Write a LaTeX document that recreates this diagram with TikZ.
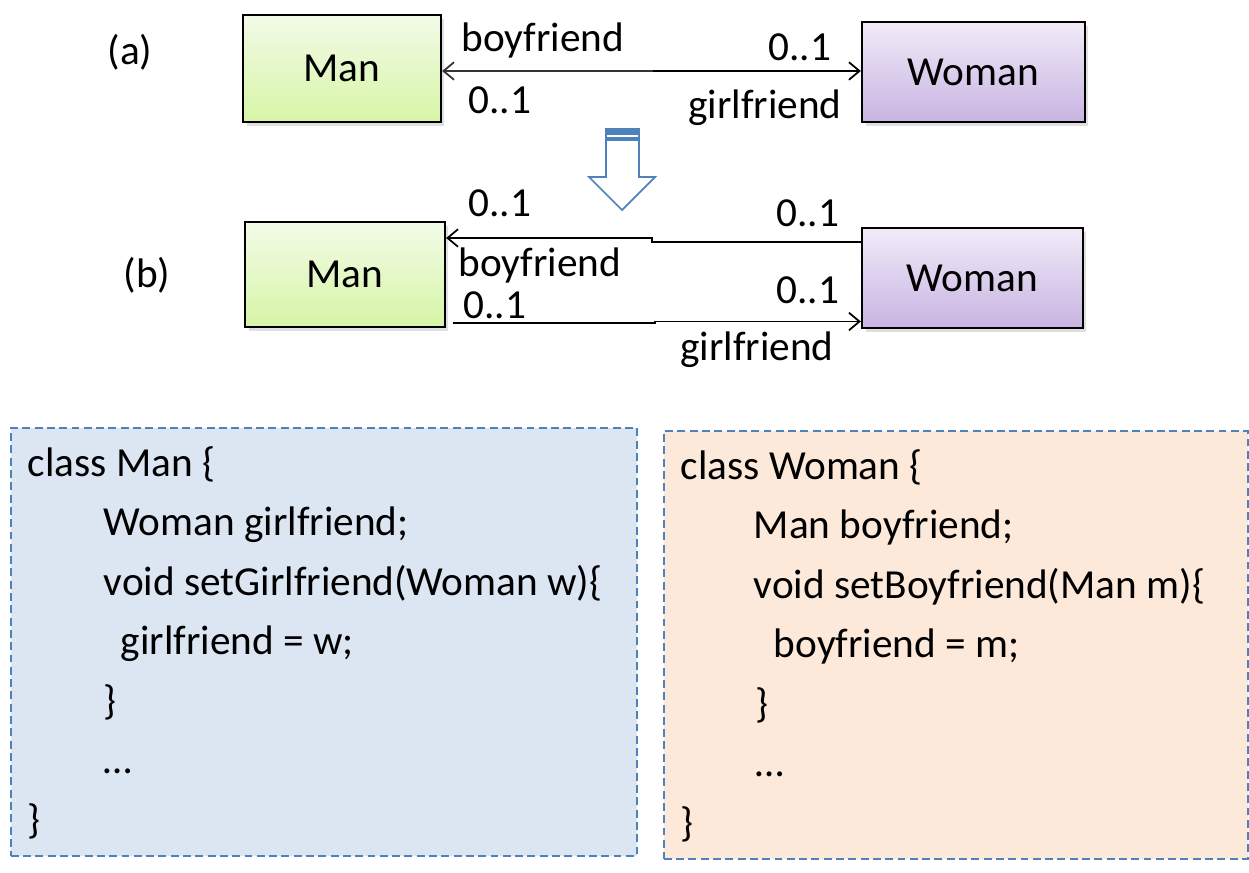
\documentclass[tikz,border=0pt]{standalone}
\usepackage{fontspec}
\setmainfont{Carlito}
\usetikzlibrary{arrows.meta,shadows}
\definecolor{manTop}{HTML}{F3FBE8}
\definecolor{manBot}{HTML}{D6F5A6}
\definecolor{womanTop}{HTML}{F0EBF8}
\definecolor{womanBot}{HTML}{C8B4E2}
\definecolor{codeBlue}{HTML}{4F81BD}
\definecolor{manFill}{HTML}{DCE6F2}
\definecolor{womanFill}{HTML}{FDE9D9}
\tikzset{
  big/.style={font=\fontsize{23.5}{28}\selectfont},
  classbox/.style={big, draw, line width=1.3pt, shade,
    drop shadow={shadow xshift=2pt, shadow yshift=-2pt, opacity=.25}},
  manbox/.style={classbox, top color=manTop, bottom color=manBot},
  womanbox/.style={classbox, top color=womanTop, bottom color=womanBot},
  lbl/.style={big, inner sep=0pt},
  codebox/.style={draw=codeBlue, dash pattern=on 4.5pt off 2.5pt, line width=1pt, anchor=north west},
  codeline/.style={big, anchor=base west, inner sep=0pt},
}
\begin{document}
\begin{tikzpicture}[x=0.02cm, y=-0.02cm, >={Straight Barb[length=6pt, width=10pt]}, line width=1pt]
  \useasboundingbox (0,0) rectangle (1249,873);
  % (a) una asociacion bidireccional
  \node[big] (tagA) at (130,52) {(a)};
  \node[manbox, minimum width=3.96cm, minimum height=2.14cm] (manA) at (342,68.5) {Man};
  \node[womanbox, minimum width=4.46cm, minimum height=2cm] (womanA) at (973.5,72) {Woman};
  \coordinate (midA) at (653,71);
  \draw[->] (midA) -- (midA -| womanA.west);
  \draw[->, black!80] (midA) -- (midA -| manA.east);
  \node[lbl] (boyA) at (543,40) {boyfriend};
  \node[lbl] (multA1) at (800,47) {0..1};
  \node[lbl] (multA2) at (500,100) {0..1};
  \node[lbl] (girlA) at (765,108) {girlfriend};
  % Flecha de bloque
  \draw[codeBlue, fill=white] (606,129) -- (639,129) -- (639,177) -- (655,177)
    -- (622,210) -- (589,177) -- (606,177) -- cycle;
  \fill[codeBlue] (606,129) rectangle (639,135);
  \fill[codeBlue] (606,137) rectangle (639,141);
  % (b) dos asociaciones unidireccionales
  \node[big] (tagB) at (147,275) {(b)};
  \node[manbox, minimum width=4cm, minimum height=2.1cm] (manB) at (345,274.5) {Man};
  \node[womanbox, minimum width=4.42cm, minimum height=2cm] (womanB) at (972.5,278) {Woman};
  \coordinate (stepU1) at (652,242);
  \coordinate (stepU2) at (652,238);
  \coordinate (stepL1) at (655,323);
  \coordinate (stepL2) at (655,321.5);
  \draw[->] (stepU1 -| womanB.west) -- (stepU1) -- (stepU2) -- (stepU2 -| manB.east);
  \draw[->] ([xshift=4pt]stepL1 -| manB.east) -- (stepL1) -- (stepL2) -- (stepL2 -| womanB.west);
  \node[lbl] (multB1) at (500,203) {0..1};
  \node[lbl] (multB2) at (808,213) {0..1};
  \node[lbl] (boyB) at (540,265) {boyfriend};
  \node[lbl] (multB3) at (495,305) {0..1};
  \node[lbl] (multB4) at (808,290) {0..1};
  \node[lbl] (girlB) at (757,350) {girlfriend};
  % Codigo de las clases
  \node[codebox, fill=manFill, minimum width=12.52cm, minimum height=8.56cm] (manCode) at (10,427) {};
  \node[codebox, fill=womanFill, minimum width=11.68cm, minimum height=8.56cm] (womanCode) at (663,430) {};
  \foreach \dx/\txt [count=\k from 0] in {0/{class Man \{}, 76/{Woman girlfriend;},
      76/{void setGirlfriend(Woman w)\{}, 93/{girlfriend = w;}, 76/\}, 76/…, 0/\}}
    \node[codeline] (manLine\k) at ({27+\dx},{476+59.5*\k}) {\txt};
  \foreach \dx/\txt [count=\k from 0] in {0/{class Woman \{}, 73/{Man boyfriend;},
      73/{void setBoyfriend(Man m)\{}, 93/{boyfriend = m;}, 75/\}, 75/…, 0/\}}
    \node[codeline] (womanLine\k) at ({680+\dx},{479+59.5*\k}) {\txt};
\end{tikzpicture}
\end{document}
